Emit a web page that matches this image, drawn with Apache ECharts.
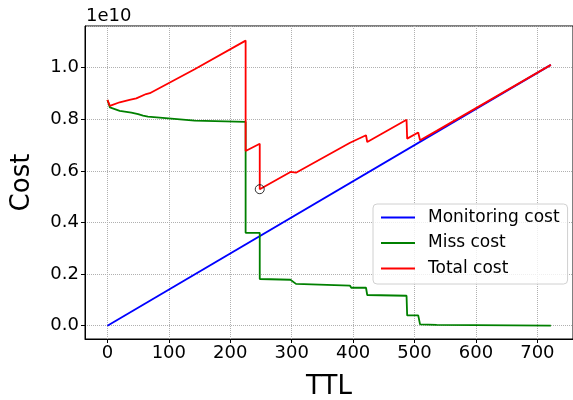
<!DOCTYPE html>
<html>
<head>
<meta charset="utf-8">
<script src="https://cdn.jsdelivr.net/npm/echarts@6/dist/echarts.min.js"></script>
<style>
  html, body { margin: 0; padding: 0; background: #fff; }
  #chart { width: 573px; height: 400px; }
</style>
</head>
<body>
<div id="chart"></div>
<script>
// values, cost in raw units (axis shows x 1e10)
var monitorTtl  = [0, 722];
var monitorCost = [0, 1.011e10];

var missTtl  = [0, 2, 4, 20, 39, 50, 58, 66, 69, 142, 145, 225, 225, 248, 248, 298, 300, 307,
                395, 397, 421, 423, 487, 488, 506, 509, 536, 722];
var missCost = [8.75e9, 8.61e9, 8.46e9, 8.33e9, 8.26e9, 8.20e9, 8.14e9, 8.10e9, 8.04e9, 7.95e9,
                7.92e9, 7.90e9, 3.60e9, 3.60e9, 1.81e9, 1.78e9, 1.77e9, 1.62e9, 1.55e9, 1.47e9,
                1.47e9, 1.19e9, 1.16e9, 0.40e9, 0.40e9, 0.05e9, 0.03e9, 0];

var totalTtl  = [0, 2, 4, 6.5, 20, 36, 47, 63, 66, 69, 142, 145, 225, 225, 248, 248, 298, 300,
                 307, 395, 397, 421, 423, 487, 488, 506, 509, 536, 722];
var totalCost = [8.75e9, 8.64e9, 8.52e9, 8.55e9, 8.66e9, 8.75e9, 8.81e9, 8.98e9, 9.03e9, 9.01e9,
                 9.94e9, 9.95e9, 11.05e9, 6.77e9, 7.05e9, 5.29e9, 5.96e9, 5.98e9, 5.93e9, 7.09e9,
                 7.04e9, 7.38e9, 7.12e9, 7.98e9, 7.25e9, 7.49e9, 7.19e9, 7.55e9, 10.11e9];

var minTotal = [248, 5.29e9];

function zip(xs, ys) {
    return xs.map(function (x, i) { return [x, ys[i]]; });
}

var font = 'DejaVu Sans';
var myChart = echarts.init(document.getElementById('chart'), null, { renderer: 'canvas' });
myChart.setOption({
    animation: false,
    textStyle: { fontFamily: font },
    grid: {
        left: 85, right: 0, top: 26, bottom: 61,
        outerBoundsMode: 'none', containLabel: false,
        show: true, borderColor: '#000', borderWidth: 1, backgroundColor: 'transparent'
    },
    graphic: [{
        type: 'text', left: 86, top: 7,
        style: { text: '1e10', font: '18px "DejaVu Sans"', fill: '#000' }
    }],
    legend: {
        orient: 'vertical',
        left: 373, top: 204,
        padding: [5, 8, 7, 7],
        itemWidth: 34, itemHeight: 17, itemGap: 8.5,
        backgroundColor: 'rgba(255,255,255,0.8)',
        borderColor: '#d0d0d0', borderWidth: 1, borderRadius: 4,
        itemStyle: { opacity: 0 },
        textStyle: { fontFamily: font, fontSize: 17, lineHeight: 17, color: '#000', padding: [0, 0, 0, 8] },
        data: ['Monitoring cost', 'Miss cost', 'Total cost']
    },
    xAxis: {
        type: 'value',
        min: -36.5, max: 758, splitNumber: 8,
        name: 'TTL', nameLocation: 'middle', nameGap: 35,
        nameTextStyle: { fontFamily: font, fontSize: 26, color: '#000' },
        axisLine: { onZero: false, lineStyle: { color: '#000', width: 1 } },
        axisTick: { show: true, length: 4, lineStyle: { color: '#000' } },
        axisLabel: { fontSize: 18, color: '#000', margin: 5, showMinLabel: false, showMaxLabel: false },
        splitLine: { show: true, lineStyle: { color: '#b0b0b0', type: 'dotted', width: 1 } }
    },
    yAxis: {
        type: 'value',
        min: -5.16e8, max: 1.1616e10, splitNumber: 6,
        name: 'Cost', nameLocation: 'middle', nameGap: 50, nameRotate: 90,
        nameTextStyle: { fontFamily: font, fontSize: 26, color: '#000' },
        axisLine: { show: true, onZero: false, lineStyle: { color: '#000', width: 1 } },
        axisTick: { show: true, length: 4, lineStyle: { color: '#000' } },
        axisLabel: {
            fontSize: 18, color: '#000', margin: 6, showMinLabel: false, showMaxLabel: false,
            formatter: function (v) { return (v / 1e10).toFixed(1); }
        },
        splitLine: { show: true, lineStyle: { color: '#b0b0b0', type: 'dotted', width: 1 } }
    },
    series: [{
        name: 'Monitoring cost', type: 'line', symbol: 'none',
        lineStyle: { color: '#0000ff', width: 1.8 }, itemStyle: { color: '#0000ff' },
        data: zip(monitorTtl, monitorCost)
    }, {
        name: 'Miss cost', type: 'line', symbol: 'none',
        lineStyle: { color: '#008000', width: 1.8 }, itemStyle: { color: '#008000' },
        data: zip(missTtl, missCost)
    }, {
        name: 'Total cost', type: 'line', symbol: 'none',
        lineStyle: { color: '#ff0000', width: 1.8 }, itemStyle: { color: '#ff0000' },
        data: zip(totalTtl, totalCost)
    }, {
        name: 'min', type: 'scatter', symbol: 'circle', symbolSize: 9,
        itemStyle: { color: 'transparent', borderColor: '#000', borderWidth: 1 },
        data: [minTotal], z: 5
    }]
});
</script>
</body>
</html>
